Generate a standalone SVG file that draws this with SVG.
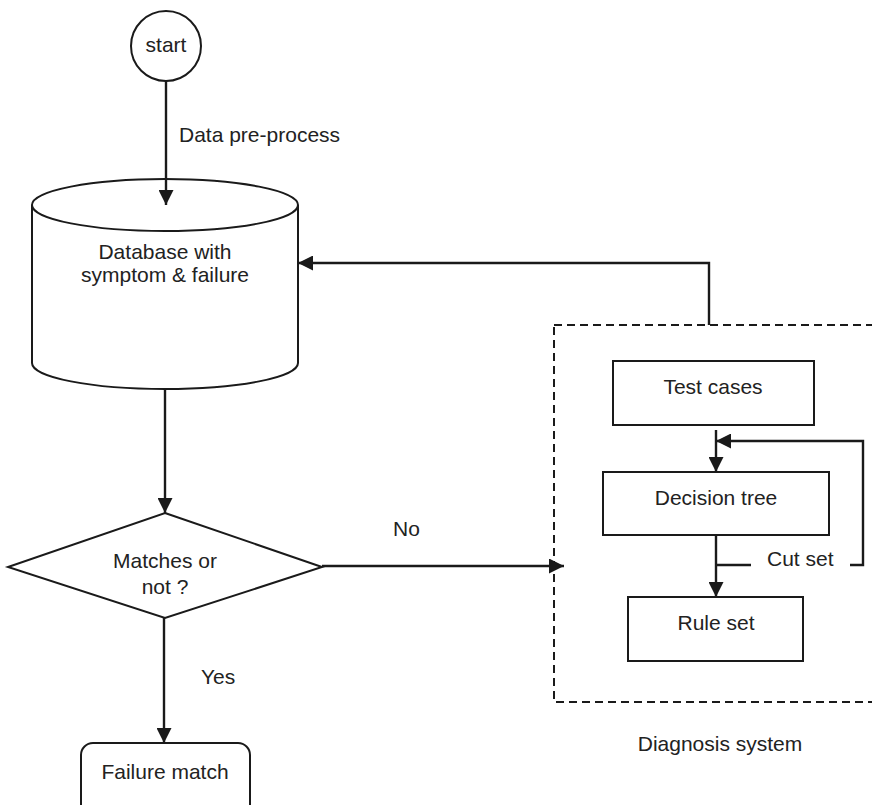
<svg xmlns="http://www.w3.org/2000/svg" width="872" height="805" viewBox="0 0 872 805">
<style>
.s{fill:#fff;stroke:#1a1a1a;stroke-width:2}
.c{fill:none;stroke:#1a1a1a;stroke-width:2.4}
.d{fill:none;stroke:#1a1a1a;stroke-width:2;stroke-dasharray:8,5}
text{font-family:"Liberation Sans",Arial,sans-serif;font-size:21px;fill:#222}
.m{text-anchor:middle}
</style>
<defs>
<marker id="ah" viewBox="0 0 15 15" refX="15" refY="7.5" markerWidth="15" markerHeight="15" markerUnits="userSpaceOnUse" orient="auto">
<path d="M0,0 L15,7.5 L0,15 Z" fill="#1a1a1a"/>
</marker>
</defs>
<rect width="872" height="805" fill="#fff"/>
<g id="start">
<circle class="s" cx="166" cy="46" r="35"/>
<text class="m" x="166" y="52">start</text>
</g>
<g id="database">
<path class="s" d="M32,205 L32,363 A133,26 0 0 0 298,363 L298,205"/>
<ellipse class="s" cx="165" cy="205" rx="133" ry="26"/>
<text class="m" x="165" y="259">Database with</text>
<text class="m" x="165" y="282">symptom &amp; failure</text>
</g>
<g id="decision">
<polygon class="s" points="165,513 322,567 165,618 8,567"/>
<text class="m" x="165" y="568">Matches or</text>
<text class="m" x="165" y="594">not ?</text>
</g>
<g id="failure-match">
<rect class="s" x="81" y="743" width="169" height="75" rx="12"/>
<text class="m" x="165" y="779">Failure match</text>
</g>
<g id="diagnosis-system">
<rect class="d" x="554" y="325" width="330" height="377"/>
<text class="m" x="720" y="751">Diagnosis system</text>
</g>
<g id="test-cases">
<rect class="s" x="613" y="361" width="201" height="64"/>
<text class="m" x="713" y="394">Test cases</text>
</g>
<g id="decision-tree">
<rect class="s" x="603" y="472" width="226" height="63"/>
<text class="m" x="716" y="505">Decision tree</text>
</g>
<g id="rule-set">
<rect class="s" x="628" y="597" width="175" height="64"/>
<text class="m" x="716" y="630">Rule set</text>
</g>
<g id="connectors">
<line class="c" x1="166" y1="81" x2="166" y2="205" marker-end="url(#ah)"/>
<text x="179" y="142">Data pre-process</text>
<line class="c" x1="165" y1="389" x2="165" y2="513" marker-end="url(#ah)"/>
<polyline class="c" points="709,325 709,263 298,263" marker-end="url(#ah)"/>
<line class="c" x1="322" y1="566" x2="564" y2="566" marker-end="url(#ah)"/>
<text x="393" y="536">No</text>
<line class="c" x1="164" y1="618" x2="164" y2="743" marker-end="url(#ah)"/>
<text x="201" y="684">Yes</text>
<line class="c" x1="716" y1="430" x2="716" y2="472" marker-end="url(#ah)"/>
<polyline class="c" points="850,565 863,565 863,441 716,441" marker-end="url(#ah)"/>
<line class="c" x1="716" y1="535" x2="716" y2="597" marker-end="url(#ah)"/>
<line class="c" x1="716" y1="565" x2="751" y2="565"/>
<text x="767" y="566">Cut set</text>
</g>
</svg>
